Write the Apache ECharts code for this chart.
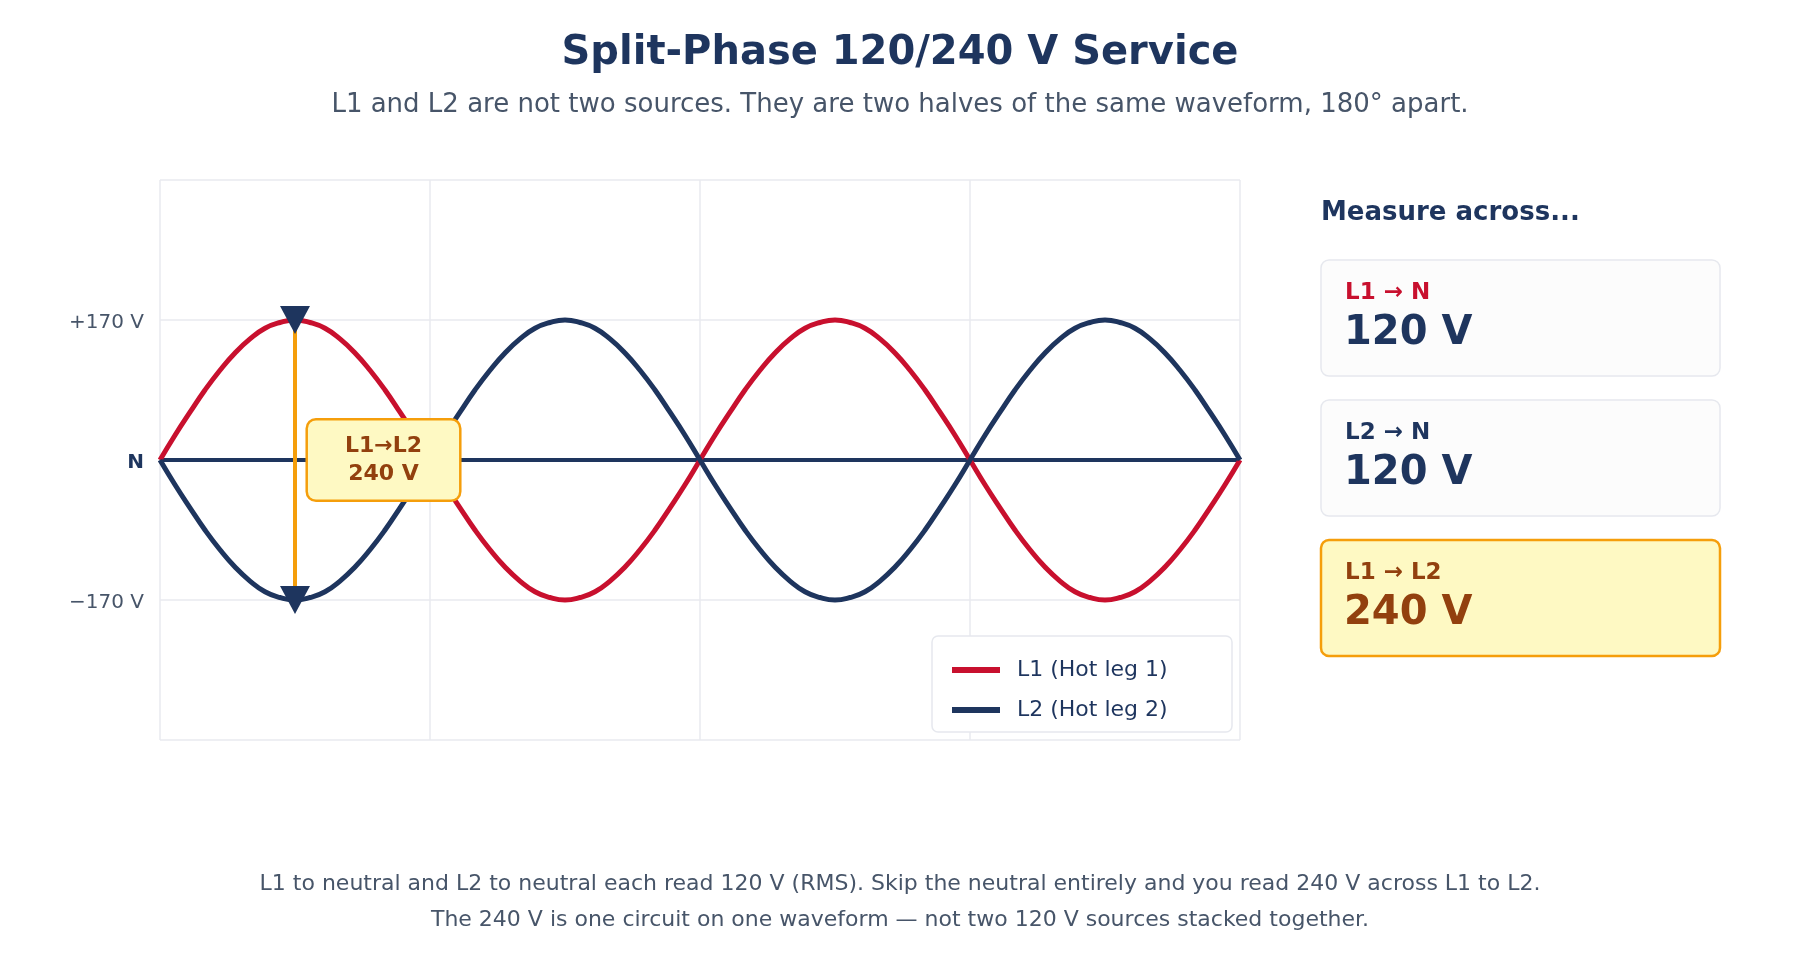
<!DOCTYPE html>
<html>
<head>
<meta charset="utf-8">
<title>Split-Phase 120/240 V Service</title>
<script src="https://cdn.jsdelivr.net/npm/echarts@6/dist/echarts.min.js"></script>
<style>
  html, body { margin: 0; padding: 0; background: #fff; }
  #main { width: 1800px; height: 960px; }
</style>
</head>
<body>
<div id="main"></div>
<script>
// phase angle (degrees) and instantaneous volts, every 10 degrees
var angles = [0, 10, 20, 30, 40, 50, 60, 70, 80, 90, 100, 110, 120, 130, 140, 150, 160, 170,
  180, 190, 200, 210, 220, 230, 240, 250, 260, 270, 280, 290, 300, 310, 320, 330, 340, 350,
  360, 370, 380, 390, 400, 410, 420, 430, 440, 450, 460, 470, 480, 490, 500, 510, 520, 530,
  540, 550, 560, 570, 580, 590, 600, 610, 620, 630, 640, 650, 660, 670, 680, 690, 700, 710, 720];
var l1Volts = [0, 30, 58, 85, 109, 130, 147, 160, 167, 170, 167, 160, 147, 130, 109, 85, 58, 30,
  0, -30, -58, -85, -109, -130, -147, -160, -167, -170, -167, -160, -147, -130, -109, -85, -58, -30,
  0, 30, 58, 85, 109, 130, 147, 160, 167, 170, 167, 160, 147, 130, 109, 85, 58, 30,
  0, -30, -58, -85, -109, -130, -147, -160, -167, -170, -167, -160, -147, -130, -109, -85, -58, -30, 0];
var l2Volts = [0, -30, -58, -85, -109, -130, -147, -160, -167, -170, -167, -160, -147, -130, -109, -85, -58, -30,
  0, 30, 58, 85, 109, 130, 147, 160, 167, 170, 167, 160, 147, 130, 109, 85, 58, 30,
  0, -30, -58, -85, -109, -130, -147, -160, -167, -170, -167, -160, -147, -130, -109, -85, -58, -30,
  0, 30, 58, 85, 109, 130, 147, 160, 167, 170, 167, 160, 147, 130, 109, 85, 58, 30, 0];
var neutralAngles = [0, 720];

var tickValues = [170, 0, -170];
var tickLabels = ['+170 V', 'N', '\u2212170 V'];

// the 240 V bracket between the two legs
var bracketAngle = 90;
var bracketVolts = [170, -170];
var bracketLabelAt = [149, 0];
var bracketText = ['L1\u2192L2', '240 V'];

var seriesNames = ['L1 (Hot leg 1)', 'L2 (Hot leg 2)'];

var cardTitles = ['L1 \u2192 N', 'L2 \u2192 N', 'L1 \u2192 L2'];
var cardValues = ['120 V', '120 V', '240 V'];

var footerLines = [
  'L1 to neutral and L2 to neutral each read 120 V (RMS). Skip the neutral entirely and you read 240 V across L1 to L2.',
  'The 240 V is one circuit on one waveform \u2014 not two 120 V sources stacked together.'
];

var RED = '#c8102e', NAVY = '#1e355e', ORANGE = '#f59e0b', CREAM = '#fef9c3', BROWN = '#92400e',
    SLATE = '#475569', GRID = '#e8eaef';

function pairs(xs, ys) {
  return xs.map(function (x, i) { return [x, ys[i]]; });
}

var chart = echarts.init(document.getElementById('main'));

// right side cards
var cardGraphics = [{
  type: 'text', x: 1321, y: 213,
  style: { text: 'Measure across...', fill: NAVY, font: 'bold 26px "DejaVu Sans"', verticalAlign: 'middle' }
}];
var cardTitleColors = [RED, NAVY, BROWN];
var cardValueColors = [NAVY, NAVY, BROWN];
cardTitles.forEach(function (t, i) {
  var y0 = 260 + i * 140;
  var hot = i === 2;
  cardGraphics.push({
    type: 'rect', shape: { x: 1321, y: y0, width: 399, height: 116, r: 8 },
    style: { fill: hot ? CREAM : '#fcfcfc', stroke: hot ? ORANGE : '#e6e8ee', lineWidth: hot ? 2.5 : 1.5 }
  });
  cardGraphics.push({
    type: 'text', x: 1345, y: y0 + 33.5,
    style: { text: t, fill: cardTitleColors[i], font: 'bold 23px "DejaVu Sans"', verticalAlign: 'middle' }
  });
  cardGraphics.push({
    type: 'text', x: 1344, y: y0 + 73.5,
    style: { text: cardValues[i], fill: cardValueColors[i], font: 'bold 40px "DejaVu Sans"', verticalAlign: 'middle' }
  });
});

footerLines.forEach(function (line, i) {
  cardGraphics.push({
    type: 'text', x: 900, y: 884 + i * 36,
    style: { text: line, fill: SLATE, font: '22px "DejaVu Sans"', align: 'center', verticalAlign: 'middle' }
  });
});

// legend box
cardGraphics.push({
  type: 'rect', z: 1, shape: { x: 932, y: 636, width: 300, height: 96, r: 6 },
  style: { fill: '#fff', stroke: '#e6e8ee', lineWidth: 1.5 }
});

var option = {
  backgroundColor: '#fff',
  animation: false,
  textStyle: { fontFamily: 'DejaVu Sans' },
  title: [{
    text: 'Split-Phase 120/240 V Service',
    left: 'center', top: 29,
    textStyle: { fontSize: 40, fontWeight: 'bold', color: NAVY }
  }, {
    text: 'L1 and L2 are not two sources. They are two halves of the same waveform, 180\u00b0 apart.',
    left: 'center', top: 87,
    textStyle: { fontSize: 26, fontWeight: 'normal', color: SLATE }
  }],
  grid: { left: 160, top: 180, width: 1080, height: 560 },
  xAxis: {
    type: 'value', min: 0, max: 720, interval: 180,
    axisLine: { show: false }, axisTick: { show: false }, axisLabel: { show: false },
    splitLine: { show: true, lineStyle: { color: GRID, width: 1.5 } }
  },
  yAxis: {
    type: 'value', min: -340, max: 340, interval: 170,
    axisLine: { show: false }, axisTick: { show: false },
    axisLabel: {
      margin: 16, color: SLATE, fontSize: 20, padding: [6, 0, 0, 0],
      formatter: function (v) {
        var k = tickValues.indexOf(v);
        if (k < 0) return '';
        return v === 0 ? '{n|' + tickLabels[k] + '}' : tickLabels[k];
      },
      rich: { n: { fontWeight: 'bold', color: NAVY, fontSize: 20 } }
    },
    splitLine: { show: true, lineStyle: { color: GRID, width: 1.5 } }
  },
  legend: {
    data: seriesNames,
    orient: 'vertical', left: 952, top: 657, padding: 0,
    itemWidth: 48, itemHeight: 6, itemGap: 14, icon: 'rect',
    textStyle: { color: NAVY, fontSize: 22, lineHeight: 26, padding: [0, 0, 0, 12] }
  },
  graphic: cardGraphics,
  series: [{
    name: 'N', type: 'line', data: pairs(neutralAngles, [0, 0]),
    symbol: 'none', lineStyle: { color: NAVY, width: 4 }, z: 2
  }, {
    name: seriesNames[0], type: 'line', data: pairs(angles, l1Volts), smooth: true,
    symbol: 'none', color: RED, lineStyle: { color: RED, width: 5 }, z: 3
  }, {
    name: seriesNames[1], type: 'line', data: pairs(angles, l2Volts), smooth: true,
    symbol: 'none', color: NAVY, lineStyle: { color: NAVY, width: 5 }, z: 3
  }, {
    name: 'bracket', type: 'line', data: pairs([bracketAngle, bracketAngle], bracketVolts),
    symbol: 'none', lineStyle: { color: ORANGE, width: 4 }, z: 4
  }, {
    name: 'ends', type: 'scatter', data: pairs([bracketAngle, bracketAngle], bracketVolts),
    symbol: 'triangle', symbolRotate: 180, symbolSize: [30, 28],
    itemStyle: { color: NAVY, opacity: 1 }, z: 5
  }, {
    name: 'bracket label', type: 'scatter', data: [bracketLabelAt],
    symbolSize: 1, itemStyle: { color: 'transparent', opacity: 1 }, z: 6,
    label: {
      show: true, position: 'inside', opacity: 1,
      formatter: bracketText.join('\n'),
      color: BROWN, fontWeight: 'bold', fontSize: 22, lineHeight: 28, align: 'center',
      backgroundColor: CREAM, borderColor: ORANGE, borderWidth: 2.5, borderRadius: 8,
      padding: [13, 37, 10, 37]
    }
  }]
};

chart.setOption(option);
</script>
</body>
</html>
